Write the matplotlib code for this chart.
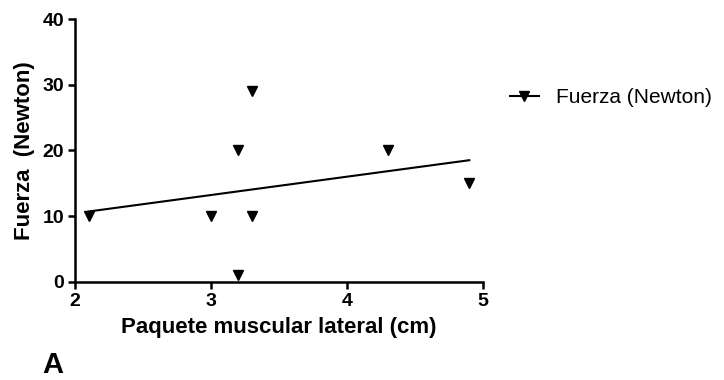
import numpy as np
import matplotlib.pyplot as plt

plt.rcParams['font.family'] = ['Liberation Sans', 'DejaVu Sans']

# datos
paquete = [2.1, 3.0, 3.2, 3.2, 3.3, 3.3, 4.3, 4.9]
fuerza = [10, 10, 20, 1, 29, 10, 20, 15]
x_ticks = [2, 3, 4, 5]
y_ticks = [0, 10, 20, 30, 40]

fig = plt.figure(figsize=(7.24, 3.8), dpi=100)
ax = fig.add_axes([0.1036, 0.258, 0.5634, 0.692])

# recta de regresion lineal
m, b = np.polyfit(paquete, fuerza, 1)
xs = np.array([min(paquete), max(paquete)])
ax.plot(xs, m * xs + b, color='black', lw=1.5, zorder=2)
ax.plot(paquete, fuerza, linestyle='none', marker='v', ms=7.5,
        color='black', zorder=3)

# entrada de leyenda (linea + marcador)
ax.plot([], [], color='black', marker='v', ms=6.5, lw=1.5, label='Fuerza (Newton)')
ax.legend(loc='center left', bbox_to_anchor=(1.066, 0.70), frameon=False,
          fontsize=15, handlelength=1.4, handletextpad=0.8,
          borderpad=0, borderaxespad=0)

ax.set_xlim(2, 5)
ax.set_ylim(0, 40)
ax.set_xticks(x_ticks)
ax.set_yticks(y_ticks)
for s in ['top', 'right']:
    ax.spines[s].set_visible(False)
for s in ['left', 'bottom']:
    ax.spines[s].set_linewidth(1.8)
ax.tick_params(width=1.8, length=5, labelsize=14, pad=3)
for lab in ax.get_xticklabels() + ax.get_yticklabels():
    lab.set_fontweight('bold')

ax.set_xlabel('Paquete muscular lateral (cm)', fontsize=16, fontweight='bold', labelpad=5)
ax.set_ylabel('Fuerza  (Newton)', fontsize=16, fontweight='bold', labelpad=5)

fig.text(0.059, 0.018, 'A', fontsize=21, fontweight='bold', va='baseline')

fig.savefig('out.png', dpi=100)
